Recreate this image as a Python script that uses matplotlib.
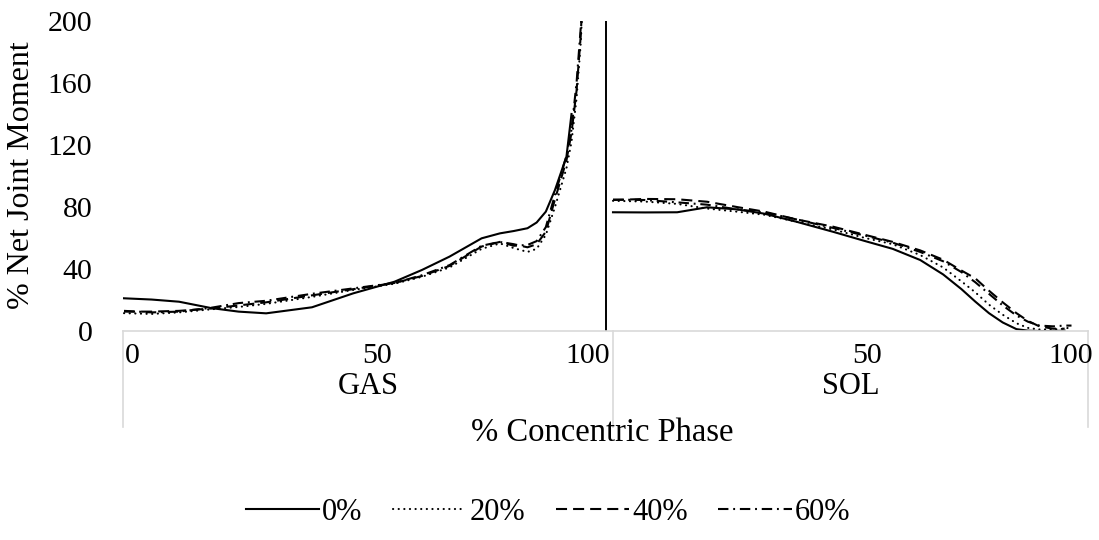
import numpy as np
import matplotlib
matplotlib.use("Agg")
import matplotlib.pyplot as plt
from matplotlib import transforms

# ---------------- data ----------------
series_labels = ["0%", "20%", "40%", "60%"]

gas_pct = [0, 6, 12, 19, 25, 31, 41, 50, 59, 65, 71, 78, 82, 85, 88, 90, 92, 94, 96.5, 97.6, 98.7, 99.6, 100]
gas_0 = [21.1, 20.3, 18.9, 14.8, 12.5, 11.4, 15.3, 24.3, 31.8, 39.4, 48, 59.8, 63, 64.5, 66.3, 70, 77, 91, 112.5, 140, np.nan, np.nan, np.nan]
gas_20 = [11.5, 11, 12, 14, 15.5, 17.5, 22, 26.5, 30.5, 35, 41, 53, 56.5, 53.5, 51, 53, 62, 80, 105, 122, 150, 185, 210]
gas_40 = [12.5, 12.5, 13, 14.5, 16.5, 18.5, 23, 27, 31, 35.5, 42, 54.5, 57.5, 56, 54, 56, 64, 85, 110, 128, 155, 190, 215]
gas_60 = [13, 12, 12.5, 15, 18, 19.5, 24, 27.5, 31, 36, 42.5, 55, 57.5, 55, 55.5, 58, 67, 88, 113, 130, 160, 195, 210]

sol_pct = [0, 7, 14, 20.5, 27, 33, 40, 48, 55, 61, 67, 72, 76, 79, 82, 85, 88, 90.5, 93, 96, 98.5, 100]
sol_0 = [76.6, 76.5, 76.6, 79.8, 78.5, 75.7, 70.5, 64, 58, 53, 45.8, 36.5, 27, 19, 11.5, 5.5, 1.2, 0.2, 0, 0, 0.2, np.nan]
sol_20 = [84, 83.5, 82, 79, 77, 75, 70.5, 65.5, 60, 56, 49, 41, 32, 25, 17, 10.5, 5, 2, 1, 1, 1.5, 2.5]
sol_40 = [84.5, 85.2, 85, 83.4, 80, 77, 72, 67.3, 62, 57.5, 52, 46, 39, 34, 26, 18.5, 11.5, 6.5, 3, 1.5, 1.5, np.nan]
sol_60 = [84.8, 84.5, 83, 81.5, 78.5, 76.5, 72, 66.5, 61.5, 57, 51, 45, 38, 31.5, 24, 16.5, 10, 6, 3.5, 3, 3.5, 3.5]

y_ticks = [0, 40, 80, 120, 160, 200]
x_tick_labels = ["0", "50", "100", "50", "100"]
group_labels = ["GAS", "SOL"]
y_title = "% Net Joint Moment"
x_title = "% Concentric Phase"

# ---------------- layout ----------------
W, H = 1099, 540
FONT = "Liberation Serif"
plt.rcParams["font.family"] = [FONT, "DejaVu Serif"]

fig = plt.figure(figsize=(W / 100, H / 100), dpi=100)
fx = lambda px: px / W
fy = lambda py: 1 - py / H

L, R, T, B = 123, 1088, 21, 331
ax = fig.add_axes([fx(L), fy(B), fx(R) - fx(L), fy(T) - fy(B)])

PXU = 4.585          # pixels per percent unit
ORIG = 124           # pixel of GAS 0 %
to_x = lambda px: (px - ORIG) / PXU
sol_offset = to_x(613)

ax.set_xlim(to_x(L), to_x(R))
ax.set_ylim(0, 200)

lw = 1.5
styles = [
    dict(linestyle="-"),
    dict(linestyle=(0, (0.1, 2.6)), dash_capstyle="round"),
    dict(linestyle=(0, (5.3, 2.9))),
    dict(linestyle=(0, (5.0, 2.3, 0.9, 2.3))),
]
gas_series = [gas_0, gas_20, gas_40, gas_60]
sol_series = [sol_0, sol_20, sol_40, sol_60]
gp = np.array(gas_pct, dtype=float)
sp = np.array(sol_pct, dtype=float)
handles = []
for lab, gv, sv, st in zip(series_labels, gas_series, sol_series, styles):
    h, = ax.plot(gp, gv, color="black", lw=lw, label=lab, **st)
    ax.plot(sol_offset + sp, sv, color="black", lw=lw, **st)
    handles.append(h)

# black separator line between groups
ax.axvline(to_x(606), color="black", lw=1.4)

# spines
for s in ["top", "right", "left"]:
    ax.spines[s].set_visible(False)
ax.spines["bottom"].set_color("#d9d9d9")
ax.spines["bottom"].set_linewidth(1.2)

ax.set_yticks(y_ticks)
ax.set_yticklabels([str(v) for v in y_ticks], fontsize=21.5, fontfamily=FONT)
ax.tick_params(axis="y", length=0, pad=22)
ax.set_xticks([])

# multi-level category axis
btr = transforms.blended_transform_factory(ax.transData, ax.transAxes)
ydown = -(427 - B) / (B - T)
for px in [L, 612.7, R]:
    ax.plot([to_x(px), to_x(px)], [0, ydown], transform=btr, color="#d9d9d9",
            lw=1.2, clip_on=False)

tick_px = [132, 377.5, 588, 867, 1071]
yt = -(356 - B) / (B - T)
for px, lab in zip(tick_px, x_tick_labels):
    ax.text(to_x(px), yt, lab, transform=btr, ha="center", va="center",
            fontsize=21.5, fontfamily=FONT)

group_px = [(L + 612.7) / 2, (612.7 + R) / 2]
yg = -(387 - B) / (B - T)
for px, lab in zip(group_px, group_labels):
    ax.text(to_x(px), yg, lab, transform=btr, ha="center", va="center",
            fontsize=22, fontfamily=FONT)

fig.text(fx(602), fy(433), x_title, ha="center", va="center", fontsize=23.5, fontfamily=FONT)
fig.text(fx(22), fy(175), y_title, ha="center", va="center", rotation=90,
         fontsize=23, fontfamily=FONT)

fig.legend(handles=handles, labels=series_labels, loc="center",
           bbox_to_anchor=(fx(548), fy(512)), ncol=4, frameon=False,
           prop={"family": FONT, "size": 22}, handlelength=2.4,
           handletextpad=0.1, columnspacing=1.0)

fig.savefig("out.png", dpi=100)
